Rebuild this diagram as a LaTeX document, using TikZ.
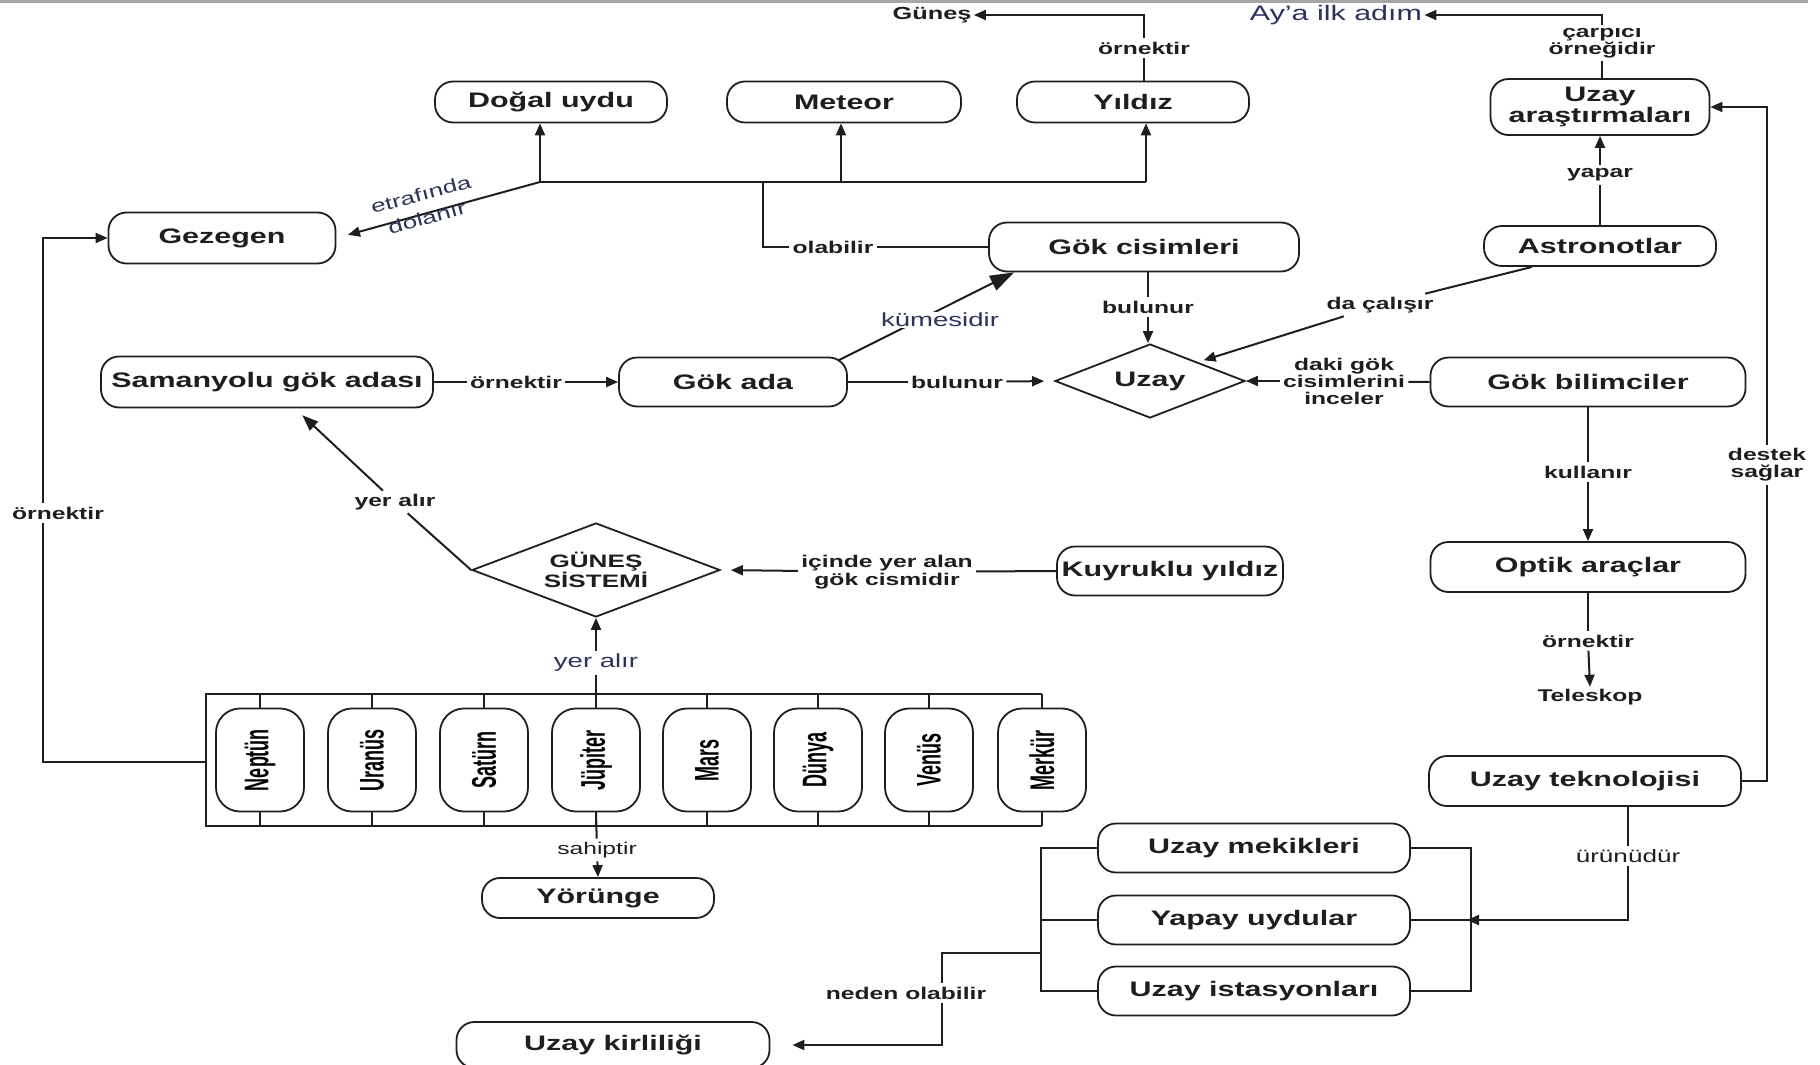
\documentclass[tikz,border=0pt]{standalone}
\usepackage{fontspec}
\usepackage{graphicx}
\setmainfont{Liberation Sans}[FakeStretch=1.45]
\newfontfamily\planetfont{Liberation Sans}
\usetikzlibrary{arrows.meta,shapes.geometric,calc}
\definecolor{ink}{RGB}{30,30,30}
\definecolor{navy}{RGB}{45,50,90}
\tikzset{
 box/.style={draw=ink, line width=0.9pt, rounded corners=9pt, align=center, inner sep=0pt,
   font=\fontsize{10.5}{9.7}\selectfont\bfseries, text=ink},
 dia/.style={draw=ink, line width=0.9pt, diamond, aspect=2.6, inner sep=0pt, align=center, text=ink},
 planet/.style={draw=ink, line width=0.9pt, rounded corners=12pt, minimum width=44pt,
   minimum height=51.5pt, inner sep=0pt},
 lbl/.style={fill=white, inner sep=1.5pt, align=center, font=\fontsize{8.5}{8.5}\selectfont\bfseries, text=ink},
 lblr/.style={inner sep=1.5pt, align=center, font=\fontsize{9.5}{10}\selectfont, text=navy},
 conn/.style={draw=ink, line width=1pt},
 arr/.style={conn, -{Triangle[length=6pt,width=5pt]}},
 arrbig/.style={conn, -{Triangle[length=12pt,width=8pt]}}
}
\newcommand{\plt}[1]{\rotatebox{90}{\planetfont\bfseries\fontsize{9}{9}\selectfont\scalebox{1}[1.9]{#1}}}
\begin{document}
\begin{tikzpicture}[x=0.5pt,y=-0.5pt]
\useasboundingbox (0,0) rectangle (1820,1065);
\draw[line width=1.5pt, gray!70] (0,2) -- (1808,2);

% main boxes
\node[box, minimum width=116pt, minimum height=20.5pt] (dogal) at (551,102) {Doğal uydu};
\node[box, minimum width=117pt, minimum height=20.5pt] (meteor) at (844,102) {Meteor};
\node[box, minimum width=116pt, minimum height=20.5pt] (yildiz) at (1133,102) {Yıldız};
\node[box, minimum width=113.5pt, minimum height=25.5pt] (gezegen) at (222,238) {Gezegen};
\node[box, minimum width=155pt, minimum height=24.5pt] (gokcis) at (1144,247) {Gök cisimleri};
\node[box, minimum width=116pt, minimum height=20pt] (astro) at (1600,246) {Astronotlar};
\node[box, minimum width=109.5pt, minimum height=28pt] (uzayar) at (1600,107) {Uzay\\araştırmaları};
\node[box, minimum width=166pt, minimum height=25.5pt] (samanyolu) at (267,382) {Samanyolu gök adası};
\node[box, minimum width=114pt, minimum height=24.5pt] (gokada) at (733,382) {Gök ada};
\node[dia, minimum width=95pt, minimum height=37pt, font=\fontsize{10.5}{10}\selectfont\bfseries] (uzay) at (1150,381) {Uzay};
\node[box, minimum width=157.5pt, minimum height=24.5pt] (gokbil) at (1588,382) {Gök bilimciler};
\node[dia, minimum width=124pt, minimum height=47pt, font=\fontsize{9}{10}\selectfont\bfseries] (gsis) at (596,570) {GÜNEŞ\\SİSTEMİ};
\node[box, minimum width=113pt, minimum height=24.5pt] (kuyruk) at (1170,571) {Kuyruklu yıldız};
\node[box, minimum width=157.5pt, minimum height=25pt] (optik) at (1588,567) {Optik araçlar};
\node[inner sep=1pt, font=\fontsize{8.5}{8.5}\selectfont\bfseries, text=ink] (teleskop) at (1590,697) {Teleskop};
\node[box, minimum width=156pt, minimum height=25pt] (uzaytek) at (1585,781) {Uzay teknolojisi};
\node[box, minimum width=116pt, minimum height=20pt] (yorunge) at (598,898) {Yörünge};
\node[box, minimum width=156pt, minimum height=24.5pt] (mekik) at (1254,848) {Uzay mekikleri};
\node[box, minimum width=156pt, minimum height=24.5pt] (yapay) at (1254,920) {Yapay uydular};
\node[box, minimum width=156pt, minimum height=24.5pt] (istasyon) at (1254,991) {Uzay istasyonları};
\node[box, minimum width=156.5pt, minimum height=23pt] (kirlilik) at (613,1045) {Uzay kirliliği};
\node[inner sep=1pt, font=\fontsize{8.75}{9}\selectfont\bfseries, text=ink] (gunestx) at (932,15) {Güneş};
\node[inner sep=1pt, font=\fontsize{10.5}{10}\selectfont, text=navy] (aya) at (1336,15) {Ay’a ilk adım};

% planets
\node[planet] (p1) at (260,760) {\plt{Neptün}};
\node[planet] (p2) at (372,760) {\plt{Uranüs}};
\node[planet] (p3) at (484,760) {\plt{Satürn}};
\node[planet] (p4) at (596,760) {\plt{Jüpiter}};
\node[planet] (p5) at (707,760) {\plt{Mars}};
\node[planet] (p6) at (818,760) {\plt{Dünya}};
\node[planet] (p7) at (929,760) {\plt{Venüs}};
\node[planet] (p8) at (1042,760) {\plt{Merkür}};

% labels
\node[lbl] (lorn1) at (1144,48) {örnektir};
\node[lbl] (lola) at (833,247) {olabilir};
\node[lbl] (lbul1) at (1148,307) {bulunur};
\node[lbl] (lorn2) at (516,382) {örnektir};
\node[lbl] (lbul2) at (957,382) {bulunur};
\node[lbl] (lda) at (1380,305) {da çalışır};
\node[lbl] (ldaki) at (1344,381) {daki gök\\cisimlerini\\inceler};
\node[lbl] (lkul) at (1588,472) {kullanır};
\node[lbl] (lorn3) at (1588,641) {örnektir};
\node[lbl] (lyapar) at (1600,175) {yapar};
\node[lbl] (lcarp) at (1602,43) {çarpıcı\\örneğidir};
\node[lbl] (ldestek) at (1767,465) {destek\\sağlar};
\node[lbl, font=\fontsize{9}{9}\selectfont] (lurun) at (1628,856) {ürünüdür};
\node[lbl] (lneden) at (906,993) {neden olabilir};
\node[lbl] (lorn4) at (58,513) {örnektir};
\node[lbl] (lyer1) at (395,502) {yer alır};
\node[lblr] (lyer2) at (596,663) {yer alır};
\node[lbl, font=\fontsize{8.5}{8.5}\selectfont] (lsahip) at (597,850) {sahiptir};
\node[lbl, font=\fontsize{8.5}{7.6}\selectfont\bfseries] (licinde) at (887,572) {içinde yer alan\\gök cismidir};

% coordinates
\coordinate (jL) at (540,182);
\coordinate (jM) at (841,182);
\coordinate (jR) at (1146,182);
\coordinate (jD) at (763,182);
\coordinate (fTL) at (206,694);
\coordinate (fBL) at (206,826);
\coordinate (fML) at (206,762);
\coordinate (lx) at (43,762);
\coordinate (brR) at (1471,920);
\coordinate (brL) at (1041,953);
\coordinate (nd) at (942,953);
\coordinate (rx) at (1767,781);

% Yildiz -> Gunes
\draw[conn] (yildiz.north -| lorn1) -- (lorn1);
\draw[arr] (lorn1) |- (gunestx.east);
% Gok cisimleri olabilir tree
\draw[conn] (gokcis.west) -- (lola);
\draw[conn] (lola) -| (jD);
\draw[conn] (jL) -- (jR);
\draw[arr] (jL) -- (dogal.south -| jL);
\draw[arr] (jM) -- (meteor.south -| jM);
\draw[arr] (jR) -- (yildiz.south -| jR);
\draw[arr, shorten >=6pt] (jL) -- (gezegen.east);
\node[lblr, rotate=15, font=\fontsize{9}{12}\selectfont] (letr) at (424,206) {etrafında\\dolanır};
% Gok ada -> Gok cisimleri
\draw[arrbig] ($(gokada.north east)+(-10,4)$) -- ($(gokcis.south west)+(26,0)$);
\node[lblr, fill=white, inner sep=0.5pt] (lkume) at (940,320) {kümesidir};
% Gok cisimleri -> Uzay
\draw[conn] (gokcis.south -| lbul1) -- (lbul1);
\draw[arr] (lbul1) -- (uzay.north -| lbul1);
% Samanyolu -> Gok ada
\draw[conn] (samanyolu.east) -- (lorn2);
\draw[arr] (lorn2) -- (gokada.west);
% Gok ada -> Uzay
\draw[conn] (gokada.east) -- (lbul2);
\draw[arr, shorten >=5pt] (lbul2) -- (uzay.west);
% Astronotlar -> Uzay
\draw[conn] ($(astro.south)+(-68,0)$) -- (lda);
\draw[arr, shorten >=3pt] (lda) -- (uzay.north east);
% Gok bilimciler -> Uzay
\draw[conn] (gokbil.west) -- (ldaki);
\draw[arr] (ldaki) -- (uzay.east);
% Gok bilimciler -> Optik
\draw[conn] (gokbil.south) -- (lkul);
\draw[arr] (lkul) -- (optik.north);
% Optik -> Teleskop
\draw[conn] (optik.south) -- (lorn3);
\draw[arr] (lorn3) -- (teleskop.north);
% Astronotlar -> Uzay arastirmalari
\draw[conn] (astro.north) -- (lyapar);
\draw[arr] (lyapar) -- (uzayar.south);
% Uzay arastirmalari -> Ay'a ilk adim
\draw[conn] (uzayar.north -| lcarp) -- (lcarp);
\draw[arr] (lcarp) |- (aya.east);
% Uzay teknolojisi -> Uzay arastirmalari
\draw[conn] (uzaytek.east) -- (rx) -- (ldestek);
\draw[arr] (ldestek) |- (uzayar.east);
% Uzay teknolojisi -> group
\draw[conn] (uzaytek.south -| lurun) -- (lurun);
\draw[arr, shorten >=-2pt] (lurun) |- (brR);
% brackets
\draw[conn] (mekik.east) -| (brR) |- (istasyon.east);
\draw[conn] (yapay.east) -- (brR);
\draw[conn] (mekik.west) -| (brL) |- (istasyon.west);
\draw[conn] (yapay.west) -- (yapay.west -| brL);
% group -> Uzay kirliligi
\draw[conn] (brL) -- (nd) -- (nd |- lneden.north);
\draw[arr, shorten >=11pt] (nd |- lneden.south) |- (kirlilik.east);
% planet frame
\draw[conn] (p8.north |- fTL) -- (fTL) -- (fBL) -- (p8.south |- fBL);
\foreach \i in {1,...,8} {
  \draw[conn] (p\i.north) -- (p\i.north |- fTL);
  \draw[conn] (p\i.south) -- (p\i.south |- fBL);
}
% planets -> Gezegen
\draw[conn] (fML) -- (lx) -- (lx |- lorn4.south);
\draw[arr] (lx |- lorn4.north) |- (gezegen.west);
% Jupiter -> Gunes sistemi
\draw[conn] (p4.north) -- (lyer2);
\draw[arr] (lyer2) -- (gsis.south);
% Jupiter -> Yorunge
\draw[conn] (p4.south) -- (lsahip);
\draw[arr] (lsahip) -- (yorunge.north);
% Gunes sistemi -> Samanyolu
\draw[conn] (gsis.west) -- (lyer1);
\draw[arr, -{Triangle[length=8pt,width=6pt]}, shorten >=5pt] (lyer1) -- ($(samanyolu.south)+(28,0)$);
% Kuyruklu yildiz -> Gunes sistemi
\draw[conn] (kuyruk.west) -- (licinde);
\draw[arr, shorten >=5pt] (licinde) -- (gsis.east);
\end{tikzpicture}
\end{document}
